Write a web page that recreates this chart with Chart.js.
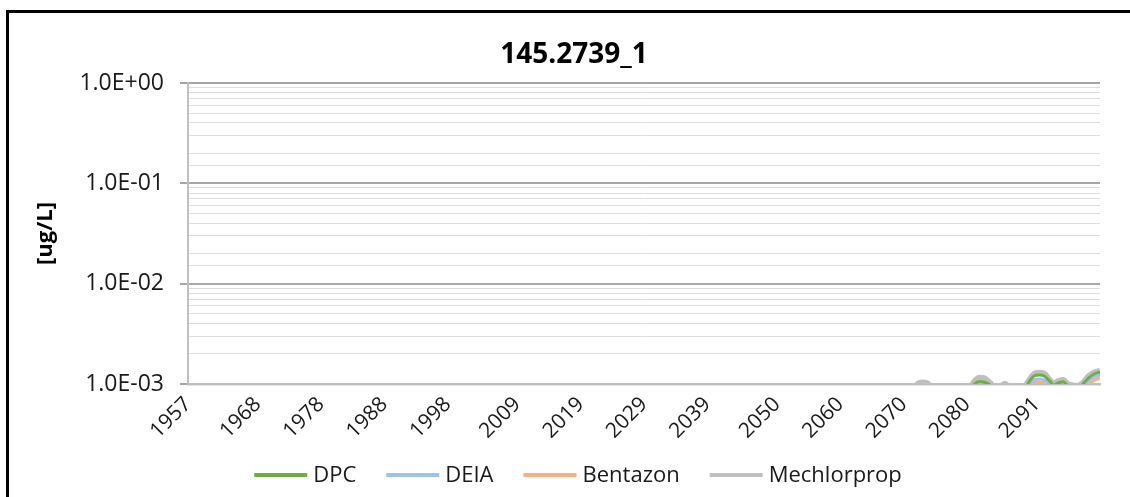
<!DOCTYPE html>
<html>
<head>
<meta charset="utf-8">
<title>145.2739_1</title>
<script src="https://cdn.jsdelivr.net/npm/chart.js@4.4.1/dist/chart.umd.min.js"></script>
<style>
  html, body { margin: 0; padding: 0; background: #fff; overflow: hidden; }
  #frame {
    position: absolute; left: 6px; top: 10px; width: 1200px; height: 600px;
    border-top: 3px solid #000; border-left: 3px solid #000;
  }
  #wrap { position: absolute; left: 0; top: 0; width: 1130px; height: 497px; }
</style>
</head>
<body>
<div id="frame"></div>
<div id="wrap"><canvas id="chart" width="1130" height="497"></canvas></div>
<script>
// Data (ug/L, log scale)
const years = [1957, 2000, 2071.5, 2072.3, 2073.0, 2073.8, 2074.5, 2080.5, 2081.2, 2082.0,
  2082.8, 2083.6, 2084.3, 2085.5, 2086.0, 2086.5, 2089.0, 2089.8, 2090.6, 2091.4,
  2092.2, 2093.0, 2093.7, 2094.5, 2095.2, 2096.0, 2097.5, 2098.3, 2099.2, 2100.0, 2101.0];

const dpc = [0.0005, 0.0006, 0.0008, 0.0009, 0.00095, 0.0009, 0.0008, 0.00085, 0.001, 0.00106,
  0.00104, 0.00098, 0.00085, 0.00085, 0.0009, 0.00085, 0.00085, 0.00105, 0.0012, 0.00123,
  0.0012, 0.00108, 0.00098, 0.00103, 0.00105, 0.00095, 0.0009, 0.001, 0.00115, 0.00125, 0.00132];

const deia = [0.0004, 0.0005, 0.0007, 0.0008, 0.00085, 0.0008, 0.0007, 0.00075, 0.00085, 0.0009,
  0.00088, 0.00082, 0.00075, 0.00075, 0.0008, 0.00075, 0.00075, 0.00098, 0.0011, 0.00112,
  0.0011, 0.001, 0.00092, 0.00095, 0.00096, 0.00088, 0.00085, 0.00095, 0.00108, 0.00117, 0.00123];

const bentazon = [0.0003, 0.0004, 0.0006, 0.0007, 0.00075, 0.0007, 0.0006, 0.00065, 0.00075, 0.0008,
  0.00078, 0.00072, 0.00065, 0.00065, 0.0007, 0.00065, 0.00065, 0.00095, 0.00103, 0.00105,
  0.00104, 0.00096, 0.0009, 0.00092, 0.00093, 0.00085, 0.0008, 0.0009, 0.001, 0.00108, 0.00115];

const mechlorprop = [0.0006, 0.0007, 0.0009, 0.00102, 0.00104, 0.00102, 0.0009, 0.00095, 0.00108, 0.00116,
  0.00114, 0.00104, 0.00095, 0.00097, 0.00101, 0.00096, 0.00095, 0.0011, 0.00127, 0.0013,
  0.00128, 0.00112, 0.00102, 0.00108, 0.0011, 0.001, 0.00096, 0.00104, 0.0012, 0.0013, 0.00136];

const xTickYears = [1957, 1968, 1978, 1988, 1998, 2009, 2019, 2029, 2039, 2050, 2060, 2070, 2080, 2091];
const yTickValues = [1, 0.1, 0.01, 0.001];
const yTickLabels = ['1.0E+00', '1.0E-01', '1.0E-02', '1.0E-03'];
const chartTitle = '145.2739_1';

const FONT = '"Open Sans", "Liberation Sans", sans-serif';

function isMajor(v) {
  return yTickValues.some(t => Math.abs(Math.log10(v) - Math.log10(t)) < 1e-6);
}

function points(arr) {
  return years.map((x, i) => ({ x: x, y: arr[i] }));
}

// Title + one-row legend, drawn by hand so they sit where the original has them
const decorations = {
  id: 'decorations',
  afterDraw(chart) {
    const ctx = chart.ctx;
    ctx.save();

    ctx.font = 'bold 28px ' + FONT;
    ctx.fillStyle = '#000';
    ctx.textAlign = 'center';
    ctx.textBaseline = 'middle';
    ctx.fillText(chartTitle, 574, 55);

    const lineLen = 53, textGap = 6, itemGap = 30;
    ctx.font = '22px ' + FONT;
    const items = chart.data.datasets.map(ds => ({
      label: ds.label,
      color: ds.borderColor,
      w: lineLen + textGap + ctx.measureText(ds.label).width
    }));
    const total = items.reduce((s, it) => s + it.w, 0) + itemGap * (items.length - 1);
    let x = 578 - total / 2;
    const y = 475;
    items.forEach(it => {
      ctx.strokeStyle = it.color;
      ctx.lineWidth = 4;
      ctx.beginPath();
      ctx.moveTo(x, y);
      ctx.lineTo(x + lineLen, y);
      ctx.stroke();
      ctx.fillStyle = '#1a1a1a';
      ctx.textAlign = 'left';
      ctx.fillText(it.label, x + lineLen + textGap, y + 1);
      x += it.w + itemGap;
    });
    ctx.restore();
  }
};

const series = [
  { label: 'DPC', data: points(dpc), color: '#70ad47', width: 3 },
  { label: 'DEIA', data: points(deia), color: '#9dc3e6', width: 3 },
  { label: 'Bentazon', data: points(bentazon), color: '#f4b183', width: 3 },
  { label: 'Mechlorprop', data: points(mechlorprop), color: '#bfbfbf', width: 5.5 }
];

new Chart(document.getElementById('chart'), {
  type: 'line',
  data: {
    datasets: series.map(s => ({
      label: s.label,
      data: s.data,
      borderColor: s.color,
      backgroundColor: s.color,
      borderWidth: s.width,
      pointRadius: 0,
      cubicInterpolationMode: 'monotone',
      clip: 0
    }))
  },
  options: {
    responsive: false,
    animation: false,
    layout: { padding: { left: 0, right: 30, top: 83, bottom: 33 } },
    plugins: {
      legend: { display: false },
      tooltip: { enabled: false },
      title: { display: false }
    },
    scales: {
      x: {
        type: 'linear',
        min: 1957,
        max: 2101,
        afterBuildTicks: function(scale) {
          scale.ticks = xTickYears.map(v => ({ value: v }));
        },
        afterFit: function(scale) { scale.height = 80; },
        grid: { display: false, drawTicks: false },
        border: { color: '#bfbfbf', width: 2.5 },
        ticks: {
          autoSkip: false,
          minRotation: 45,
          maxRotation: 45,
          padding: 8,
          color: '#1a1a1a',
          font: { family: FONT, size: 21 },
          callback: v => String(v)
        }
      },
      y: {
        type: 'logarithmic',
        min: 0.001,
        max: 1,
        afterFit: function(scale) { scale.width = 188; },
        title: {
          display: true,
          text: '[ug/L]',
          color: '#000',
          font: { family: FONT, size: 22, weight: 'bold' },
          padding: { top: 33, bottom: 0 }
        },
        border: { color: '#bfbfbf', width: 2 },
        grid: {
          color: ctx => isMajor(ctx.tick.value) ? '#a6a6a6' : '#dcdcdc',
          lineWidth: ctx => isMajor(ctx.tick.value) ? 2 : 1,
          tickColor: ctx => isMajor(ctx.tick.value) ? '#a6a6a6' : 'rgba(0,0,0,0)',
          tickLength: 8
        },
        ticks: {
          autoSkip: false,
          padding: 16,
          color: '#1a1a1a',
          font: { family: FONT, size: 23 },
          callback: function(value) {
            const i = yTickValues.findIndex(t => Math.abs(Math.log10(value) - Math.log10(t)) < 1e-6);
            return i >= 0 ? yTickLabels[i] : '';
          }
        }
      }
    }
  },
  plugins: [decorations]
});
</script>
</body>
</html>
